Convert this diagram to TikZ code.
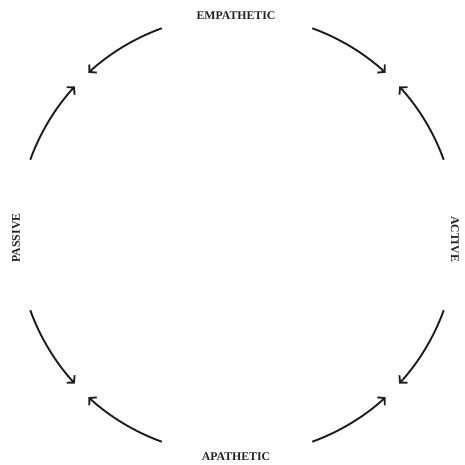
\documentclass[tikz,border=0pt]{standalone}
\usepackage{fontspec}
\setmainfont{Liberation Serif}
\usetikzlibrary{arrows.meta,calc}
\tikzset{
  cyc/.style={line width=1.9pt, draw={rgb,255:red,30;green,30;blue,30}, -{Straight Barb[length=5pt,width=11pt,line width=1.9pt]}},
  lab/.style={font=\fontsize{11.8}{13}\selectfont\bfseries, text={rgb,255:red,35;green,35;blue,35}, inner sep=0pt}
}
\begin{document}
\begin{tikzpicture}[x=1pt,y=1pt]
\useasboundingbox (0,0) rectangle (464,465);
\coordinate (c) at (237,230);
\def\R{220}
\foreach \n/\a in {a/110,b/160,d/70,e/20,f/-20,g/-70,h/-110,i/-160}{
  \coordinate (\n) at ($(c)+(\a:\R)$);
}
\draw[cyc] (a) arc[start angle=110, end angle=132.5, radius=\R];
\draw[cyc] (b) arc[start angle=160, end angle=137.5, radius=\R];
\draw[cyc] (d) arc[start angle=70, end angle=47.5, radius=\R];
\draw[cyc] (e) arc[start angle=20, end angle=42.5, radius=\R];
\draw[cyc] (f) arc[start angle=-20, end angle=-42.5, radius=\R];
\draw[cyc] (g) arc[start angle=-70, end angle=-47.5, radius=\R];
\draw[cyc] (h) arc[start angle=-110, end angle=-132.5, radius=\R];
\draw[cyc] (i) arc[start angle=-160, end angle=-137.5, radius=\R];
\node[lab] (top) at (236,449) {EMPATHETIC};
\node[lab] (bot) at (236,8) {APATHETIC};
\node[lab, rotate=90] (left) at (16,227) {PASSIVE};
\node[lab, rotate=-90] (right) at (455,226) {ACTIVE};
\end{tikzpicture}
\end{document}
